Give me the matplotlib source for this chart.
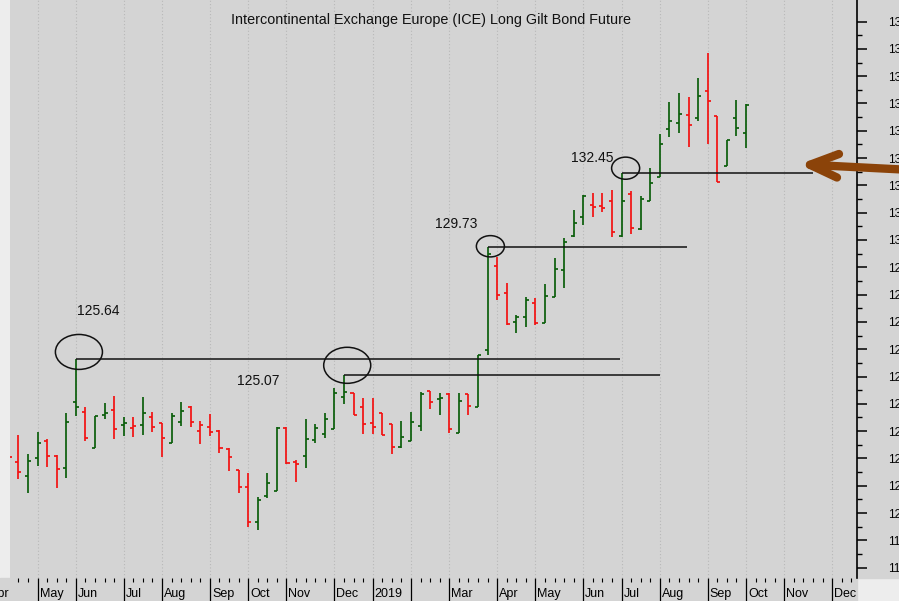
import numpy as np
import pandas as pd
import matplotlib
matplotlib.use('Agg')
import matplotlib.pyplot as plt
import matplotlib.dates as mdates
from matplotlib.patches import Ellipse, Rectangle
from matplotlib.lines import Line2D
from matplotlib.transforms import ScaledTranslation, IdentityTransform

plt.rcParams['font.family'] = ['Liberation Sans', 'DejaVu Sans']

#%% weekly OHLC bars (Friday dates)
dates = pd.date_range('2018-04-13', periods=78, freq='W-FRI')

opens = [122.10, 121.88, 121.37, 122.01, 122.64, 122.10, 121.64, 124.08, 123.69, 122.37,
         123.59, 123.78, 123.23, 123.13, 123.23, 123.51, 123.29, 122.58, 123.35, 123.90,
         123.02, 123.16, 123.02, 122.34, 121.58, 120.95, 119.66, 120.63, 120.82, 123.13,
         121.88, 122.09, 122.68, 122.89, 123.08, 124.26, 124.39, 123.90, 123.29, 123.66,
         123.25, 122.43, 122.62, 123.19, 124.47, 124.18, 124.36, 122.92, 124.35, 123.90,
         125.97, 129.06, 128.05, 126.99, 127.17, 127.71, 126.97, 127.93, 128.91, 130.15,
         130.84, 131.29, 131.25, 131.41, 130.15, 131.69, 130.40, 131.41, 132.32, 134.06,
         134.28, 134.58, 134.48, 135.47, 134.55, 132.71, 134.48, 133.91]
highs = [122.10, 122.86, 122.16, 122.95, 122.71, 122.13, 123.66, 125.64, 123.88, 123.57,
         124.04, 124.29, 123.51, 123.51, 124.26, 123.69, 123.29, 123.66, 124.08, 123.92,
         123.38, 123.62, 123.04, 122.37, 121.58, 121.48, 120.60, 121.48, 123.14, 123.16,
         121.95, 123.44, 123.26, 123.68, 124.57, 125.07, 124.41, 124.21, 124.21, 123.68,
         123.26, 123.38, 123.71, 124.45, 124.48, 124.41, 124.39, 124.39, 124.36, 125.79,
         129.73, 129.39, 128.42, 127.26, 127.93, 127.87, 128.38, 129.33, 130.07, 131.10,
         131.65, 131.71, 131.71, 131.84, 132.45, 131.81, 131.62, 132.63, 133.88, 135.05,
         135.40, 135.22, 135.93, 136.86, 134.55, 133.67, 135.13, 134.97]
lows = [122.04, 121.24, 120.75, 121.73, 121.68, 120.93, 121.27, 123.57, 122.62, 122.37,
        123.44, 122.70, 122.82, 122.78, 122.86, 122.96, 122.04, 122.58, 123.19, 123.14,
        122.52, 122.82, 122.21, 121.55, 120.75, 119.48, 119.38, 120.54, 120.81, 121.80,
        121.15, 121.64, 122.56, 122.74, 123.07, 124.00, 123.59, 122.90, 122.90, 122.86,
        122.16, 122.37, 122.62, 123.02, 123.80, 123.59, 122.92, 122.92, 123.59, 123.90,
        125.79, 127.81, 126.89, 126.59, 126.81, 126.89, 126.95, 127.90, 128.23, 130.12,
        130.55, 130.86, 131.04, 130.10, 130.12, 130.22, 130.37, 131.41, 132.30, 133.77,
        133.93, 133.40, 134.37, 133.51, 132.14, 132.71, 133.81, 133.36]
closes = [122.04, 121.52, 121.92, 122.58, 122.09, 121.60, 123.33, 123.88, 122.76, 123.57,
          123.66, 123.07, 123.29, 123.19, 123.66, 123.16, 122.76, 123.57, 123.74, 123.33,
          123.23, 122.98, 122.37, 122.04, 120.95, 119.68, 120.48, 121.11, 123.11, 121.82,
          121.78, 122.71, 123.11, 123.44, 124.40, 124.45, 123.59, 123.26, 123.14, 122.86,
          122.41, 122.80, 123.33, 124.36, 124.08, 124.21, 123.07, 124.11, 123.92, 125.77,
          129.50, 127.99, 126.92, 127.17, 127.80, 126.95, 127.96, 128.93, 129.94, 130.62,
          131.62, 131.22, 131.16, 130.29, 131.41, 130.43, 131.51, 132.10, 133.52, 134.34,
          134.62, 134.22, 135.29, 135.10, 132.14, 133.67, 134.10, 134.95]

# month axis
month_starts = [d for d in pd.date_range('2018-04-06', '2019-12-27', freq='W-FRI') if d.day <= 7]
month_labels = ['Apr', 'May', 'Jun', 'Jul', 'Aug', 'Sep', 'Oct', 'Nov', 'Dec', '2019',
                '', 'Mar', 'Apr', 'May', 'Jun', 'Jul', 'Aug', 'Sep', 'Oct', 'Nov', 'Dec']

# marked highs and the lines drawn from them
mark_dates = ['2018-06-01', '2018-12-14', '2019-03-29', '2019-07-05']
mark_levels = [125.64, 125.07, 129.73, 132.45]
mark_ends = ['2019-07-04', '2019-08-02', '2019-08-22', '2019-11-22']

title = 'Intercontinental Exchange Europe (ICE) Long Gilt Bond Future'

#%% styling
panel = '#d4d4d4'
outside = '#ededed'
up_col = '#0b5e0b'
dn_col = '#f21212'
arrow_col = '#8b4309'

x = mdates.date2num(dates.to_pydatetime())
o, h, l, c = map(np.asarray, (opens, highs, lows, closes))
prev = np.r_[o[0], c[:-1]]
cols = np.where(c >= prev, up_col, dn_col)

fig = plt.figure(figsize=(8.99, 6.01), dpi=100, facecolor=outside)
fig.patches.append(Rectangle((857 / 899, 23 / 601), 42 / 899, 578 / 601,
                             transform=fig.transFigure, color=panel, zorder=-5))
fig.patches.append(Rectangle((0, 0), 857 / 899, 23 / 601,
                             transform=fig.transFigure, color=panel, zorder=-5))
ax = fig.add_axes([10 / 899, 23 / 601, 847 / 899, 578 / 601], facecolor=panel)

w = 2.2  # tick half width, days
ax.vlines(x, l, h, colors=cols, lw=1.25)
ax.hlines(o, x - w, x, colors=cols, lw=1.25)
ax.hlines(c, x, x + w, colors=cols, lw=1.25)

# support / resistance lines
mx = mdates.date2num(pd.to_datetime(mark_dates).to_pydatetime())
me = mdates.date2num(pd.to_datetime(mark_ends).to_pydatetime())
ax.hlines(mark_levels, mx, me, colors='#111111', lw=1.1, zorder=3)

ell = [((2.2, 0.26), (34.4, 1.28)), ((2.4, 0.34), (34.4, 1.32)),
       ((2.1, 0.04), (20.5, 0.78)), ((3.0, 0.18), (20.5, 0.81))]
for xm, lev, (off, size) in zip(mx, mark_levels, ell):
    ax.add_patch(Ellipse((xm + off[0], lev + off[1]), size[0], size[1],
                         fill=False, ec='#111111', lw=1.1, zorder=4))

txt_off = [(1, 48), (-107, -6), (-53, 23), (-51, 15)]
for xm, lev, off in zip(mx, mark_levels, txt_off):
    ax.annotate(f'{lev:.2f}', (xm, lev), xytext=off, textcoords='offset pixels',
                ha='left', va='center', fontsize=10, color='#111111')

ax.text(0.497, 1 - 20 / 578, title, transform=ax.transAxes, ha='center', va='center',
        fontsize=10.4, color='#111111')

#%% axes
for s in ['left', 'top', 'bottom']:
    ax.spines[s].set_visible(False)
ax.spines['right'].set_linewidth(1.2)

ax.yaxis.tick_right()
ax.set_yticks(np.arange(118, 139))
ax.set_yticks(np.arange(118.5, 138.5, 1.0), minor=True)
ax.tick_params(axis='y', which='major', direction='out', length=7.2, width=1.1,
               pad=15, labelsize=8.5)
ax.tick_params(axis='y', which='minor', direction='out', length=3.6, width=1.0)

mnum = mdates.date2num([d.to_pydatetime() for d in month_starts])
wk = mdates.date2num(pd.date_range('2018-04-06', '2019-12-27', freq='W-FRI').to_pydatetime())
ax.set_xticks(mnum, month_labels)
ax.set_xticks(wk, minor=True)

# limits after the ticks, so the ticks do not widen the view
x0 = x[0]
ax.set_xlim(x0 + 0.8, x0 + 620.2)
ax.set_ylim(117.62, 138.79)

tick_len, tick_pad = 16.6, -9.6
ax.tick_params(axis='x', which='major', direction='out', length=tick_len, width=0.9,
               pad=tick_pad, labelsize=9)
ax.tick_params(axis='x', which='minor', direction='out', length=2.9, width=0.8)
shift = ScaledTranslation(2 / 100, 0, fig.dpi_scale_trans)
for lbl in ax.get_xticklabels():
    lbl.set_horizontalalignment('left')
    lbl.set_transform(lbl.get_transform() + shift)
ax.annotate('Apr', (mnum[0], 0), xycoords=ax.get_xaxis_transform(),
            xytext=(-9, -(tick_len + tick_pad) * 100 / 72), textcoords='offset pixels',
            ha='left', va='top', fontsize=9, annotation_clip=False)

ax.grid(axis='x', which='major', linestyle=(0, (1, 2)), color='#b8b8b8', lw=0.8)
ax.set_axisbelow(True)

# brown arrow pointing at the end of the last line
ax_x, ax_y = ax.transData.transform((me[3], mark_levels[3]))
ax_y += 2.6
tip = (ax_x - 3, ax_y + 5.7)
head = Line2D([ax_x + 26, tip[0], ax_x + 24], [ax_y + 16.5, tip[1], ax_y - 7.0],
              transform=IdentityTransform(), color=arrow_col, lw=6.0,
              solid_capstyle='round', solid_joinstyle='round')
shaft = Line2D([tip[0], ax_x + 95], [tip[1], ax_y + 0.7],
               transform=IdentityTransform(), color=arrow_col, lw=6.0,
               solid_capstyle='round')
fig.add_artist(head)
fig.add_artist(shaft)

fig.savefig('out.png', dpi=100, facecolor=fig.get_facecolor())
